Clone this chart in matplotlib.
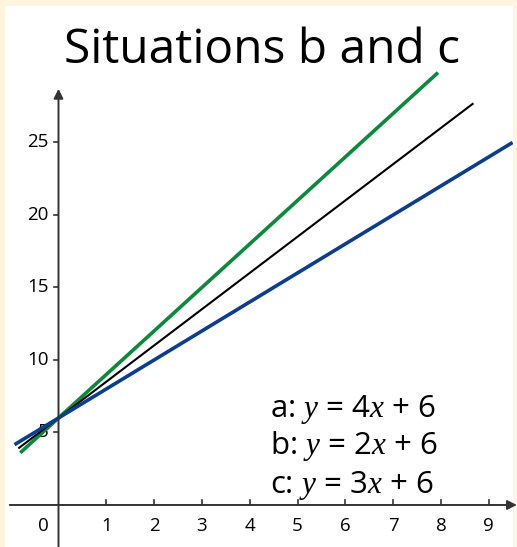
import numpy as np
import matplotlib.pyplot as plt

plt.rcParams['font.family'] = ['Open Sans', 'DejaVu Sans']
plt.rcParams['mathtext.fontset'] = 'custom'
plt.rcParams['mathtext.it'] = 'Liberation Serif:italic'
plt.rcParams['mathtext.rm'] = 'Open Sans'

# lines y = m*x + 6, drawn between their end x values
slopes = [3.0, 2.5, 2.0]
intercept = 6.0
x_start = [-0.80, -0.84, -0.92]
x_end = [7.94, 8.68, 9.50]
colors = ['#0a8a3a', '#000000', '#0b3d91']
widths = [2.6, 1.5, 2.6]

x_ticks = [1, 2, 3, 4, 5, 6, 7, 8, 9]
y_ticks = [5, 10, 15, 20, 25]
labels = ['a: $y$ = 4$x$ + 6', 'b: $y$ = 2$x$ + 6', 'c: $y$ = 3$x$ + 6']

W, H = 517, 547
fig = plt.figure(figsize=(W / 100, H / 100), dpi=100, facecolor='#fff5dc')

# white panel inside the cream border
ax = fig.add_axes([5 / W, 0, 508 / W, 541 / H])
ax.set_facecolor('white')
ax.set_xlim(-1.119, 9.508)
ax.set_ylim(-2.897, 34.41)

for m, x0, x1, c, lw in zip(slopes, x_start, x_end, colors, widths):
    xs = np.array([x0, x1])
    ax.plot(xs, m * xs + intercept, color=c, lw=lw, solid_capstyle='butt', zorder=3)

# axes through the origin with arrow heads
axis_col = '#333333'
for s in ['top', 'right', 'left', 'bottom']:
    ax.spines[s].set_visible(False)
ax.annotate('', xy=(9.59, 0), xytext=(-1.02, 0), annotation_clip=False,
            arrowprops=dict(arrowstyle='-|>', color=axis_col, lw=1.4,
                            mutation_scale=14, shrinkA=0, shrinkB=0))
ax.annotate('', xy=(0, 28.7), xytext=(0, -3.0), annotation_clip=False,
            arrowprops=dict(arrowstyle='-|>', color=axis_col, lw=1.4,
                            mutation_scale=14, shrinkA=0, shrinkB=0))

ax.set_xticks([])
ax.set_yticks([])
for t in x_ticks:
    ax.plot([t, t], [0, 0.35], color=axis_col, lw=1.2)
    ax.text(t, -0.8, str(t), ha='center', va='top', fontsize=13.5)
for t in y_ticks:
    ax.plot([-0.09, 0], [t, t], color=axis_col, lw=1.2)
    ax.text(-0.2, t, str(t), ha='right', va='center', fontsize=13.5, zorder=1)
ax.text(-0.2, -0.8, '0', ha='right', va='top', fontsize=13.5)

for lab, yb in zip(labels, [6.1, 3.5, 0.83]):
    ax.text(4.42, yb, lab, ha='left', va='baseline', fontsize=22.5)

fig.text(0.507, 0.885, 'Situations b and c', ha='center', va='baseline', fontsize=34.5)

fig.savefig('out.png', dpi=100, facecolor=fig.get_facecolor())
